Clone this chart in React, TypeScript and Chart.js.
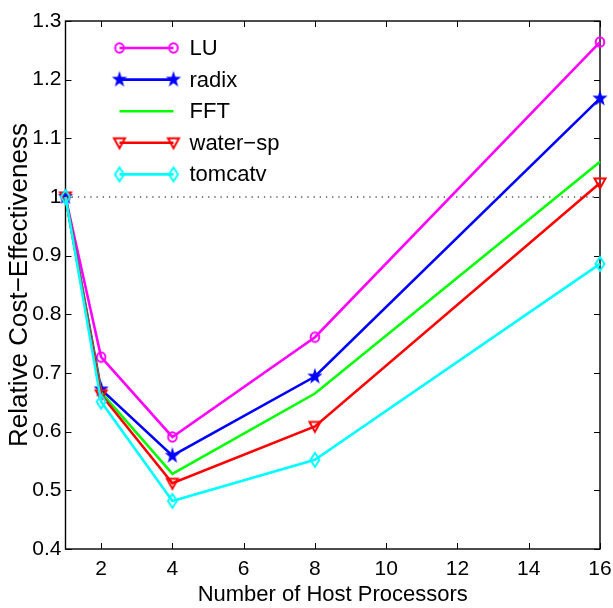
import React, { useEffect, useRef } from 'react';
import { Chart, registerables } from 'chart.js';

Chart.register(...registerables);

// ---- data ----
const hostProcessors = [1, 2, 4, 8, 16];
const luValues = [1.0, 0.727, 0.591, 0.761, 1.264];
const radixValues = [1.0, 0.672, 0.559, 0.694, 1.168];
const fftValues = [1.0, 0.667, 0.528, 0.665, 1.06];
const waterSpValues = [1.0, 0.663, 0.512, 0.609, 1.024];
const tomcatvValues = [1.0, 0.651, 0.482, 0.552, 0.886];
const seriesNames = ['LU', 'radix', 'FFT', 'water−sp', 'tomcatv'];
const xTickValues = [2, 4, 6, 8, 10, 12, 14, 16];
const yTickValues = [0.4, 0.5, 0.6, 0.7, 0.8, 0.9, 1.0, 1.1, 1.2, 1.3];
const referenceRange = [1, 16];
const referenceLevel = [1, 1];
const xTitle = 'Number of Host Processors';
const yTitle = 'Relative Cost−Effectiveness';

// ---- styles ----
const FONT = "'Liberation Sans', Arial, Helvetica, sans-serif";
const colors = ['#ff00ff', '#0000ff', '#00ff00', '#ff0000', '#00ffff'];
const markerKinds = ['circle', 'star', 'none', 'triangleDown', 'diamond'];

function makeMarker(kind: string, color: string): HTMLCanvasElement | false {
  if (kind === 'none') return false;
  const size = 22;
  const c = document.createElement('canvas');
  c.width = size;
  c.height = size;
  const ctx = c.getContext('2d')!;
  const cx = size / 2;
  const cy = size / 2;
  ctx.strokeStyle = color;
  ctx.fillStyle = color;
  ctx.lineWidth = 2;
  ctx.beginPath();
  if (kind === 'circle') {
    ctx.ellipse(cx, cy, 4.3, 4.8, 0, 0, Math.PI * 2);
    ctx.stroke();
  } else if (kind === 'star') {
    const outer = 8;
    const inner = 3.2;
    for (let i = 0; i < 10; i++) {
      const r = i % 2 === 0 ? outer : inner;
      const a = -Math.PI / 2 + (i * Math.PI) / 5;
      const px = cx + r * Math.cos(a);
      const py = cy + r * Math.sin(a) * 1.08;
      if (i === 0) ctx.moveTo(px, py);
      else ctx.lineTo(px, py);
    }
    ctx.closePath();
    ctx.fill();
  } else if (kind === 'triangleDown') {
    ctx.moveTo(cx - 5.5, cy - 4.5);
    ctx.lineTo(cx + 5.5, cy - 4.5);
    ctx.lineTo(cx, cy + 5.5);
    ctx.closePath();
    ctx.stroke();
  } else if (kind === 'diamond') {
    ctx.moveTo(cx, cy - 7);
    ctx.lineTo(cx + 4.5, cy);
    ctx.lineTo(cx, cy + 7);
    ctx.lineTo(cx - 4.5, cy);
    ctx.closePath();
    ctx.stroke();
  }
  return c;
}

export default function App() {
  const canvasRef = useRef<HTMLCanvasElement | null>(null);

  useEffect(() => {
    if (!canvasRef.current) return;
    const seriesValues = [luValues, radixValues, fftValues, waterSpValues, tomcatvValues];
    const markers = markerKinds.map((k, i) => makeMarker(k, colors[i]));

    const datasets: any[] = [
      {
        label: 'reference',
        data: referenceRange.map((x, i) => ({ x, y: referenceLevel[i] })),
        borderColor: '#555555',
        borderWidth: 1.3,
        borderDash: [1.3, 4.9],
        pointRadius: 0,
        order: 10,
        clip: false,
      },
    ];
    seriesNames.forEach((name, i) => {
      datasets.push({
        label: name,
        data: hostProcessors.map((x, j) => ({ x, y: seriesValues[i][j] })),
        borderColor: colors[i],
        backgroundColor: colors[i],
        borderWidth: 2.6,
        pointStyle: markers[i] || 'circle',
        pointRadius: markers[i] ? 6 : 0,
        pointHoverRadius: markers[i] ? 6 : 0,
        order: seriesNames.length - i,
        clip: false,
        tension: 0,
      });
    });

    const framePlugin = {
      id: 'frame',
      beforeDatasetsDraw(chart: any) {
        const { ctx, chartArea, scales } = chart;
        const { left, right, top, bottom } = chartArea;
        ctx.save();
        ctx.strokeStyle = '#000';
        ctx.lineWidth = 1.4;
        ctx.strokeRect(left, top, right - left, bottom - top);
        const tl = 6;
        ctx.lineWidth = 1;
        ctx.beginPath();
        xTickValues.forEach((v) => {
          const x = Math.round(scales.x.getPixelForValue(v)) + 0.5;
          ctx.moveTo(x, bottom);
          ctx.lineTo(x, bottom - tl);
          ctx.moveTo(x, top);
          ctx.lineTo(x, top + tl);
        });
        yTickValues.forEach((v) => {
          const y = Math.round(scales.y.getPixelForValue(v)) + 0.5;
          ctx.moveTo(left, y);
          ctx.lineTo(left + tl, y);
          ctx.moveTo(right, y);
          ctx.lineTo(right - tl, y);
        });
        ctx.stroke();
        ctx.restore();
      },
    };

    const legendPlugin = {
      id: 'matlabLegend',
      afterDatasetsDraw(chart: any) {
        const { ctx, chartArea } = chart;
        const x0 = chartArea.left + 54;
        const x1 = chartArea.left + 108;
        const tx = chartArea.left + 124;
        const y0 = chartArea.top + 27;
        const dy = 31.6;
        ctx.save();
        seriesNames.forEach((name, i) => {
          const y = y0 + i * dy;
          ctx.strokeStyle = colors[i];
          ctx.lineWidth = 2.6;
          ctx.setLineDash([]);
          ctx.beginPath();
          ctx.moveTo(x0, y);
          ctx.lineTo(x1, y);
          ctx.stroke();
          const m = markers[i];
          if (m) {
            ctx.drawImage(m, x0 - m.width / 2, y - m.height / 2);
            ctx.drawImage(m, x1 - m.width / 2, y - m.height / 2);
          }
          ctx.fillStyle = '#000';
          ctx.font = `22px ${FONT}`;
          ctx.textBaseline = 'middle';
          ctx.textAlign = 'left';
          ctx.fillText(name, tx, y + 1);
        });
        ctx.restore();
      },
    };

    const chart = new Chart(canvasRef.current, {
      type: 'line',
      data: { datasets },
      options: {
        animation: false,
        responsive: false,
        maintainAspectRatio: false,
        layout: { padding: { top: 21, right: 13, bottom: 0, left: 0 } },
        plugins: {
          legend: { display: false },
          tooltip: { enabled: false },
        },
        scales: {
          x: {
            type: 'linear',
            min: 1,
            max: 16,
            grid: { display: false, drawTicks: false },
            border: { display: false },
            afterBuildTicks: (scale: any) => {
              scale.ticks = xTickValues.map((v) => ({ value: v }));
            },
            afterFit: (scale: any) => {
              scale.height = 59;
              scale.paddingLeft = 0;
              scale.paddingRight = 0;
            },
            ticks: {
              color: '#000',
              padding: 8,
              maxRotation: 0,
              autoSkip: false,
              font: { family: FONT, size: 21 },
              callback: (v: any) => String(v),
            },
            title: {
              display: true,
              text: xTitle,
              color: '#000',
              padding: { top: 0, bottom: 0 },
              font: { family: FONT, size: 22 },
            },
          },
          y: {
            type: 'linear',
            min: 0.4,
            max: 1.3,
            grid: { display: false, drawTicks: false },
            border: { display: false },
            afterBuildTicks: (scale: any) => {
              scale.ticks = yTickValues.map((v) => ({ value: v }));
            },
            afterFit: (scale: any) => {
              scale.width = 65.5;
              scale.paddingTop = 0;
              scale.paddingBottom = 0;
            },
            ticks: {
              color: '#000',
              padding: 4,
              autoSkip: false,
              font: { family: FONT, size: 21 },
              callback: (v: any) => String(Number(Number(v).toFixed(1))),
            },
            title: {
              display: true,
              text: yTitle,
              color: '#000',
              padding: { top: 4, bottom: 0 },
              font: { family: FONT, size: 26 },
            },
          },
        },
      },
      plugins: [framePlugin, legendPlugin],
    });

    return () => chart.destroy();
  }, []);

  return (
    <div style={{ position: 'absolute', left: 0, top: 0, width: 613, height: 608, background: '#fff' }}>
      <canvas ref={canvasRef} width={613} height={608} style={{ display: 'block' }} />
    </div>
  );
}
